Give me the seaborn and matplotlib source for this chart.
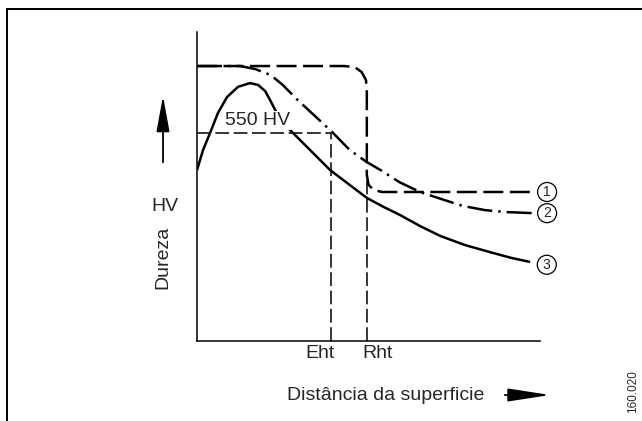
import matplotlib
matplotlib.use("Agg")
import matplotlib.pyplot as plt
from matplotlib.patches import Rectangle
import pandas as pd
import seaborn as sns

# hardness profiles (x: distance in mm, y: HV)
x_c1 = [0, 0.86, 0.92, 0.96, 0.985, 0.99, 0.99, 1.0, 1.03, 1.08, 1.96]
y_c1 = [727, 727, 724, 711, 690, 664, 439, 413, 399, 394, 394]

x_c2 = [0, 0.25, 0.34, 0.43, 0.50, 0.58, 0.68, 0.787, 0.89, 0.99, 1.07, 1.18,
        1.30, 1.42, 1.55, 1.68, 1.80, 1.96]
y_c2 = [727, 727, 719, 703, 677, 640, 598, 553, 505, 473, 452, 420,
        394, 376, 357, 346, 341, 338]

x_c3 = [0, 0.035, 0.076, 0.122, 0.175, 0.239, 0.309, 0.356, 0.397, 0.426, 0.461,
        0.501, 0.542, 0.659, 0.776, 0.892, 0.991, 1.09, 1.184, 1.30, 1.417,
        1.56, 1.708, 1.83, 1.942]
y_c3 = [452, 505, 550, 603, 645, 672, 682, 677, 661, 637, 606,
        579, 558, 505, 452, 412, 378, 354, 333, 304, 278,
        254, 235, 220, 209]

curve_names = ["1", "2", "3"]
limit_hv = 550
eht = 0.781
rht = 0.99
rht_top = 439
tick_labels = ["Eht", "Rht"]

rows = []
for name, xs, ys in zip(curve_names, [x_c1, x_c2, x_c3], [y_c1, y_c2, y_c3]):
    for i, (xv, yv) in enumerate(zip(xs, ys)):
        rows.append({"curva": name, "ordem": i, "dist": xv, "hv": yv})
df = pd.DataFrame(rows)

sns.set_style("white")
plt.rcParams["font.family"] = ["Liberation Sans", "DejaVu Sans"]

fig = plt.figure(figsize=(6.42, 4.21), dpi=100)
ax = fig.add_axes([0.3069, 0.19, 0.5343, 0.734])

# curves
for name in curve_names:
    sub = df[df["curva"] == name]
    sns.lineplot(data=sub, x="dist", y="hv", ax=ax, color="black", lw=1.8,
                 estimator=None, sort=False, legend=False, zorder=2)
line_styles = {"1": (0, (8, 2.6)), "2": (0, (10, 2.4, 1, 2.4)), "3": "-"}
for ln, name in zip(ax.lines, curve_names):
    ln.set_linestyle(line_styles[name])
    ln.set_solid_capstyle("butt")
    ln.set_solid_joinstyle("round")

# 550 HV limit and depths
ax.plot([0, eht], [limit_hv, limit_hv], color="black", lw=1.1,
        ls=(0, (9, 3)), zorder=4)
ax.plot([eht, eht], [0, limit_hv], color="black", lw=1.1, ls=(0, (9, 3)), zorder=4)
ax.plot([rht, rht], [0, rht_top], color="black", lw=1.1, ls=(0, (9, 3)), zorder=4)

ax.text(0.353, 582, "550 HV", fontsize=14, ha="center", va="center", zorder=3,
        bbox=dict(boxstyle="square,pad=0.05", fc="white", ec="none"))

# circled curve numbers
offsets = [(10, 0), (10, 0), (12, -2)]
for name, xs, ys, off in zip(curve_names, [x_c1, x_c2, x_c3], [y_c1, y_c2, y_c3], offsets):
    ax.annotate(name, xy=(xs[-1], ys[-1]), xytext=off, textcoords="offset points",
                ha="center", va="center", fontsize=10,
                bbox=dict(boxstyle="circle,pad=0.18", fc="white", ec="black", lw=0.9))

ax.set_xlim(0, 2.0)
ax.set_ylim(0, 817)
ax.set_xticks([])
ax.set_yticks([])
sns.despine(ax=ax)
for s in ["left", "bottom"]:
    ax.spines[s].set_color("black")
    ax.spines[s].set_linewidth(1.1)

# depth labels beside their dashed lines
ax.annotate(tick_labels[0], xy=(eht, 0), xytext=(2.5, -3), textcoords="offset points",
            ha="right", va="top", fontsize=14, annotation_clip=False)
ax.annotate(tick_labels[1], xy=(rht, 0), xytext=(-3.5, -3), textcoords="offset points",
            ha="left", va="top", fontsize=14, annotation_clip=False)

ax.set_xlabel("Distância da superficie", fontsize=14)
ax.xaxis.set_label_coords(0.55, -0.175)
ax.xaxis.label.set_va("center")
ax.set_ylabel("Dureza", fontsize=14)
ax.yaxis.set_label_coords(-0.099, 0.27)
ax.yaxis.label.set_va("center")
ax.text(-0.093, 0.434, "HV", transform=ax.transAxes, fontsize=14,
        ha="center", va="center")

# axis arrows
ax.annotate("", xy=(163, 421 - 93), xytext=(163, 421 - 165),
            xycoords="figure pixels", textcoords="figure pixels",
            arrowprops=dict(arrowstyle="-|>,head_length=1.1,head_width=0.2",
                            mutation_scale=20, lw=1.3, color="black"))
ax.annotate("", xy=(553, 421 - 395), xytext=(502, 421 - 395),
            xycoords="figure pixels", textcoords="figure pixels",
            arrowprops=dict(arrowstyle="-|>,head_length=1.3,head_width=0.2",
                            mutation_scale=20, lw=1.3, color="black"))

fig.text(633 / 642, (421 - 370) / 421, "160.020", rotation=90, fontsize=8.5,
         ha="center", va="top")

fig.patches.append(Rectangle((7 / 642, -0.1), 1.2, 0.1 + (421 - 9.5) / 421,
                             transform=fig.transFigure, fill=False,
                             ec="black", lw=1.4))

fig.savefig("out.png", dpi=100)
